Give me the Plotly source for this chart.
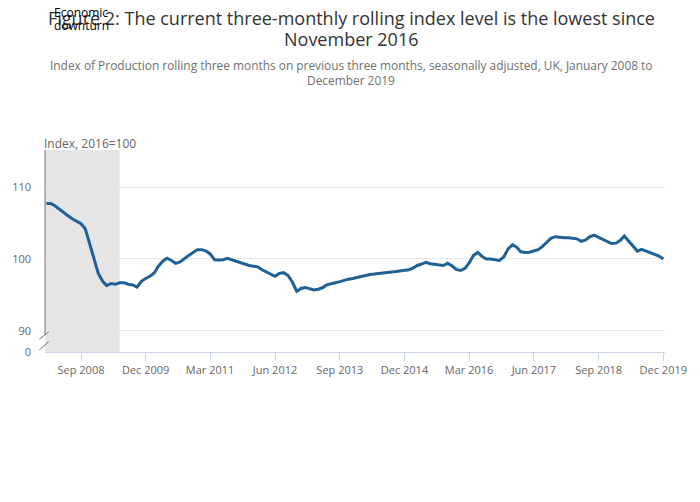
import pandas as pd
import plotly.graph_objects as go

start_month = "2008-01-01"
n_months = 144
months = pd.date_range(start_month, periods=n_months, freq="MS")

index_values = [
    107.7, 107.7, 107.4, 106.9, 106.5, 106.0, 105.6, 105.3, 104.9, 104.2,
    102.0, 100.0, 98.0, 96.9, 96.3, 96.6, 96.5, 96.7, 96.7, 96.5,
    96.4, 96.1, 96.9, 97.3, 97.6, 98.1, 99.0, 99.7, 100.1, 99.8,
    99.4, 99.6, 100.1, 100.5, 100.9, 101.3, 101.3, 101.1, 100.7, 99.9,
    99.85, 99.9, 100.1, 99.9, 99.6, 99.4, 99.25, 99.1, 99.0, 98.9,
    98.5, 98.2, 98.0, 97.6, 98.0, 98.1, 97.7, 96.8, 95.5, 95.9,
    96.05, 95.9, 95.7, 95.8, 96.0, 96.4, 96.6, 96.7, 96.85, 97.05,
    97.2, 97.3, 97.45, 97.6, 97.7, 97.85, 97.9, 98.0, 98.1, 98.15,
    98.2, 98.25, 98.3, 98.4, 98.5, 98.75, 99.1, 99.3, 99.55, 99.35,
    99.25, 99.1, 99.1, 99.4, 99.05, 98.55, 98.4, 98.7, 99.45, 100.5,
    100.9, 100.35, 100.0, 100.0, 99.95, 99.8, 100.3, 101.4, 102.0, 101.6,
    101.0, 100.9, 100.95, 101.15, 101.3, 101.75, 102.35, 102.9, 103.1, 103.0,
    102.95, 102.95, 102.9, 102.8, 102.45, 102.65, 103.1, 103.3, 103.0, 102.7,
    102.4, 102.15, 102.2, 102.6, 103.2, 102.5, 101.8, 101.1, 101.35, 101.1,
    100.9, 100.6, 100.4, 100.0,
]

downturn_end = "2009-06-01"
y_tick_vals = [87.08, 90, 100, 110]
y_tick_text = ["0", "90", "100", "110"]

title_lines = ["Figure 2: The current three-monthly rolling index level is the lowest since",
               "November 2016"]
subtitle_lines = ["Index of Production rolling three months on previous three months, "
                  "seasonally adjusted, UK, January 2008 to",
                  "December 2019"]
downturn_lines = ["Economic", "downturn"]

FONT = "Open Sans"
x_start = "2007-12-22"
x_end = "2019-12-13"

L, T, PW, PH = 43, 150, 622, 202
PAD = 3  # annotation inner padding compensation


def px_x(x):
    return (x - L) / PW


def px_y(y):
    return (T + PH - y) / PH


fig = go.Figure()
fig.add_trace(go.Scatter(
    x=months, y=index_values, mode="lines",
    line=dict(color="#206095", width=3),
    name="Index", hoverinfo="x+y",
))

# Economic downturn band
fig.add_shape(type="rect", xref="x", yref="paper", x0=x_start, x1=downturn_end,
              y0=0, y1=1, fillcolor="#e5e5e5", line=dict(width=0), layer="between")

# Broken y-axis line and break marks
axis_col = "#777777"
fig.add_shape(type="line", xref="paper", yref="paper", x0=0, x1=0,
              y0=px_y(335), y1=1, line=dict(color=axis_col, width=1))
for (ya, yb) in [(339.3, 331.7), (350.0, 341.7)]:
    fig.add_shape(type="line", xref="paper", yref="paper",
                  x0=px_x(37.3), x1=px_x(46.7), y0=px_y(ya), y1=px_y(yb),
                  line=dict(color=axis_col, width=1))

for txt, yc in zip(title_lines, [18, 39]):
    fig.add_annotation(text=txt, xref="paper", yref="paper", x=px_x(350), y=px_y(yc),
                       xanchor="center", yanchor="middle", showarrow=False,
                       font=dict(family=FONT, size=18, color="#333333"))
for txt, yc in zip(subtitle_lines, [65, 80]):
    fig.add_annotation(text=txt, xref="paper", yref="paper", x=px_x(350), y=px_y(yc),
                       xanchor="center", yanchor="middle", showarrow=False,
                       font=dict(family=FONT, size=11.9, color="#707070"))
for txt, yc in zip(downturn_lines, [12, 26]):
    fig.add_annotation(text=txt, xref="paper", yref="paper", x=px_x(53 - PAD), y=px_y(yc),
                       xanchor="left", yanchor="middle", showarrow=False,
                       font=dict(family=FONT, size=12, color="#000000"))
fig.add_annotation(text="Index, 2016=100", xref="paper", yref="paper",
                   x=px_x(43 - PAD), y=px_y(143), xanchor="left", yanchor="middle",
                   showarrow=False, font=dict(family=FONT, size=12, color="#666666"))

fig.update_layout(
    width=700, height=502,
    margin=dict(l=L, r=700 - L - PW, t=T, b=502 - T - PH),
    paper_bgcolor="white", plot_bgcolor="white",
    showlegend=False,
    font=dict(family=FONT, color="#666666"),
)
fig.update_xaxes(
    type="date", range=[x_start, x_end],
    tick0="2008-09-01", dtick="M15", tickformat="%b %Y",
    ticks="outside", ticklen=8, tickcolor="#ccd6eb",
    showline=True, linecolor="#ccd6eb", linewidth=1,
    showgrid=False, zeroline=False,
    tickfont=dict(family=FONT, size=11, color="#666666"),
)
fig.update_yaxes(
    range=[87.08, 115.14], tickmode="array", tickvals=y_tick_vals, ticktext=y_tick_text,
    showgrid=True, gridcolor="#e6e6e6", gridwidth=1,
    showline=False, zeroline=False, ticks="",
    ticklabelstandoff=13,
    tickfont=dict(family=FONT, size=11, color="#666666"),
)

fig.write_html("out.html", config={"displayModeBar": False},
               post_script="document.body.style.margin='0';")
